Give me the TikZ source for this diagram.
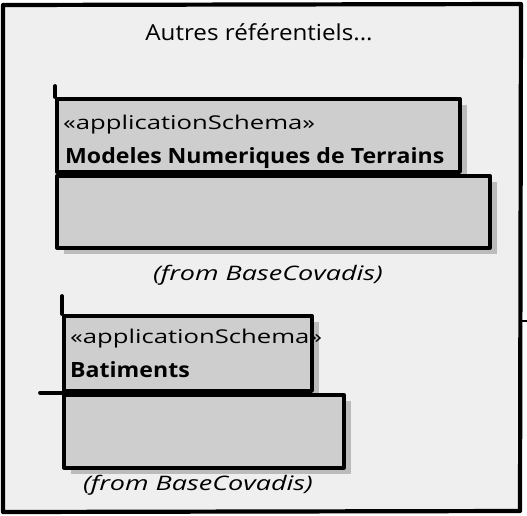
\documentclass[tikz,border=0pt]{standalone}
\usepackage{fontspec}
\usetikzlibrary{positioning,shadows}
\newfontfamily\sketchfont[FakeStretch=1.35]{Open Sans}
\newfontfamily\namefont[FakeStretch=1.1]{Open Sans}
\definecolor{framegray}{HTML}{EFEFEF}
\definecolor{pkggray}{HTML}{CECECE}
\definecolor{shadegray}{HTML}{BBBBBB}

\tikzset{
	sketch/.style={draw=black,line width=3.8pt,line join=round,line cap=round},
	pkgpart/.style={sketch,fill=pkggray,rectangle,inner sep=0pt,anchor=north west,
		drop shadow={shadow xshift=7pt,shadow yshift=-6pt,fill=shadegray,opacity=1}},
	stereo/.style={anchor=base west,inner sep=0pt,font=\sketchfont\fontsize{19}{22}\selectfont},
	pkgname/.style={anchor=base west,inner sep=0pt,font=\namefont\bfseries\fontsize{21}{24}\selectfont},
	fromlabel/.style={anchor=base,inner sep=0pt,font=\sketchfont\itshape\fontsize{20}{22}\selectfont}
}

\begin{document}
\begin{tikzpicture}[x=1pt,y=-1pt]
		\path[use as bounding box,fill=white] (0,0) rectangle (527,515);
		% outer frame
		\draw[sketch,line width=4.2pt,fill=framegray] (3,5) -- (521,4) -- (520,511) -- (3,512) -- cycle;
		\draw[sketch,line width=2.5pt] (521,321) -- (527,321);
		\node[anchor=base,inner sep=0pt,font=\namefont\fontsize{22}{26}\selectfont] (title) at (259,40) {Autres référentiels...};

		% first package
		\node[pkgpart,minimum width=403pt,minimum height=73pt] (mntTab) at (55,97) {};
		\node[pkgpart,minimum width=433pt,minimum height=72pt,below=0pt of mntTab.south west,anchor=north west] (mntBody) {};
		\draw[sketch] (mntTab.north west) -- ++(0,-11);
		\node[stereo] (mntStereo) at (63,129) {«applicationSchema»};
		\node[pkgname] (mntName) at (65,163) {Modeles Numeriques de Terrains};
		\node[fromlabel] (mntFrom) at (268,280) {(from BaseCovadis)};

		% second package
		\node[pkgpart,minimum width=248pt,minimum height=75pt] (batTab) at (62,314) {};
		\node[pkgpart,minimum width=280pt,minimum height=73pt,below=0pt of batTab.south west,anchor=north west] (batBody) {};
		\draw[sketch] (batTab.north west) -- ++(0,-18);
		\draw[sketch] (batBody.north west) -- ++(-22,0);
		\node[stereo] (batStereo) at (70,343) {«applicationSchema»};
		\node[pkgname] (batName) at (70,377) {Batiments};
		\node[fromlabel] (batFrom) at (198,490) {(from BaseCovadis)};
\end{tikzpicture}
\end{document}
